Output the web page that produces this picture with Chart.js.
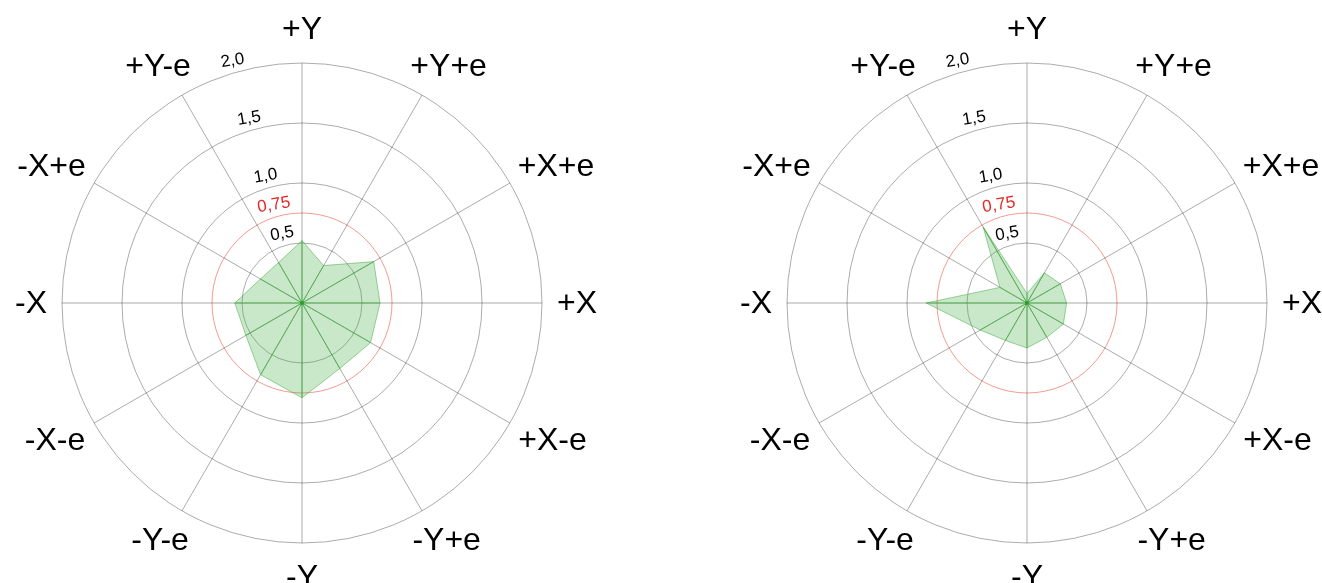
<!DOCTYPE html>
<html>
  <head>
    <meta charset='utf-8'>
    <title>Radar</title>
    <style>
      body {
        margin: 0;
        background: #fff;
        font-family: "Liberation Sans", Arial, sans-serif;
      }
      canvas {
        position: absolute;
        top: 0;
      }
      #left { left: 0; }
      #right { left: 661px; }
    </style>
    <script src='https://cdn.jsdelivr.net/npm/chart.js@4/dist/chart.umd.min.js'></script>
  </head>
  <body>
    <canvas id='left' width='661' height='583'></canvas>
    <canvas id='right' width='661' height='583'></canvas>

    <script>
    // directions, clockwise from the top
    var directions = ['+Y', '+Y+e', '+X+e', '+X', '+X-e', '-Y+e', '-Y', '-Y-e', '-X-e', '-X', '-X+e', '+Y-e'];

    var leftValues  = [0.52, 0.36, 0.69, 0.65, 0.66, 0.63, 0.79, 0.69, 0.54, 0.56, 0.40, 0.39];
    var rightValues = [0.08, 0.29, 0.32, 0.33, 0.35, 0.33, 0.375, 0.36, 0.45, 0.84, 0.26, 0.73];

    var ringValues = [0, 0.5, 0.75, 1, 1.5, 2];
    var tickValues = [0.5, 0.75, 1, 1.5, 2];
    var tickLabels = ['0,5', '0,75', '1,0', '1,5', '2,0'];
    var limitValue = 0.75;

    var gray = 'rgba(0,0,0,0.33)';
    var red = 'rgba(235,90,70,0.6)';
    var font = '"Liberation Sans", Arial, sans-serif';

    var decor = {
      id: 'decor',
      afterDatasetsDraw: function(chart) {
        var scale = chart.scales.r;
        var meta = chart.getDatasetMeta(0);
        var ctx = chart.ctx;
        var cx = scale.xCenter, cy = scale.yCenter;
        ctx.save();

        // green rays from the centre out to every vertex
        ctx.strokeStyle = 'rgba(80,180,80,0.85)';
        ctx.lineWidth = 1;
        meta.data.forEach(function(pt) {
          ctx.beginPath();
          ctx.moveTo(cx, cy);
          ctx.lineTo(pt.x, pt.y);
          ctx.stroke();
        });
        ctx.fillStyle = 'rgb(40,160,40)';
        ctx.beginPath();
        ctx.arc(cx, cy, 2, 0, Math.PI * 2);
        ctx.fill();

        // ring values, slightly left of the top spoke
        ctx.font = '17px ' + font;
        ctx.textAlign = 'center';
        ctx.textBaseline = 'middle';
        var a = -16 * Math.PI / 180;
        tickValues.forEach(function(v, i) {
          var d = scale.getDistanceFromCenterForValue(v) + 12;
          ctx.save();
          ctx.translate(cx + d * Math.sin(a), cy - d * Math.cos(a));
          ctx.rotate(a * 0.6);
          ctx.fillStyle = v === limitValue ? 'rgb(230,40,40)' : '#000';
          ctx.fillText(tickLabels[i], 0, 0);
          ctx.restore();
        });

        // direction names round the outside: spread sideways by text width
        ctx.font = '32px ' + font;
        ctx.fillStyle = '#000';
        directions.forEach(function(name, i) {
          var w = ctx.measureText(name).width;
          var px = scale.getPointPosition(i, scale.drawingArea + 15 + w / 2).x;
          var py = scale.getPointPosition(i, scale.drawingArea + 34).y;
          ctx.fillText(name, px, py + 1);
        });
        ctx.restore();
      }
    };

    function makeRadar(id, values, padLeft, padRight) {
      return new Chart(document.getElementById(id), {
        type: 'radar',
        data: {
          labels: directions,
          datasets: [{
            data: values,
            backgroundColor: 'rgba(60,170,60,0.28)',
            borderColor: 'rgba(60,170,60,0.5)',
            borderWidth: 1,
            pointRadius: 0,
            fill: true
          }]
        },
        options: {
          responsive: false,
          animation: false,
          layout: { padding: { left: padLeft, right: padRight, top: 63, bottom: 40 } },
          plugins: { legend: { display: false }, tooltip: { enabled: false } },
          scales: {
            r: {
              min: 0,
              max: 2,
              afterBuildTicks: function(scale) {
                scale.ticks = ringValues.map(function(v) { return { value: v }; });
              },
              ticks: { display: false },
              pointLabels: { display: false },
              angleLines: { color: gray, lineWidth: 1 },
              grid: {
                circular: true,
                lineWidth: 1,
                color: function(c) { return c.tick && c.tick.value === limitValue ? red : gray; }
              }
            }
          }
        },
        plugins: [decor]
      });
    }

    makeRadar('left', leftValues, 62, 119);
    makeRadar('right', rightValues, 126, 55);
    </script>
  </body>
</html>
